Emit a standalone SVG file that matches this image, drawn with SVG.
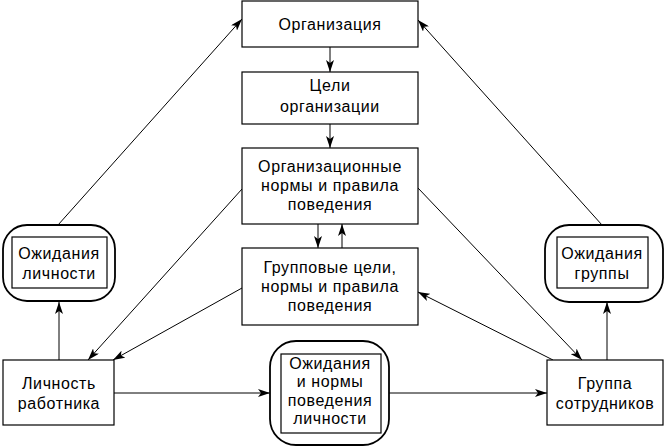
<svg xmlns="http://www.w3.org/2000/svg" width="665" height="447" viewBox="0 0 665 447">
<defs>
<style>
.box{fill:#fff;stroke:#000;stroke-width:1.2}
.outer{fill:#fff;stroke:#000;stroke-width:1.8}
.inner{fill:none;stroke:#000;stroke-width:1.2}
.t{font-family:"Liberation Sans",Arial,sans-serif;font-size:16px;letter-spacing:0.6px;fill:#000;text-anchor:middle}
.ln{fill:none;stroke:#000;stroke-width:1;marker-end:url(#ah)}
</style>
<marker id="ah" viewBox="0 0 12 8" refX="12" refY="4" markerWidth="12" markerHeight="8" markerUnits="userSpaceOnUse" orient="auto">
<path d="M0,0 L12,4 L0,8 L3,4 Z" fill="#000"/>
</marker>
</defs>
<g id="connectors">
<line class="ln" x1="330" y1="47" x2="330" y2="72"/>
<line class="ln" x1="330" y1="124" x2="330" y2="148"/>
<line class="ln" x1="318" y1="224" x2="318" y2="248"/>
<line class="ln" x1="342" y1="248" x2="342" y2="224"/>
<line class="ln" x1="58" y1="225" x2="242" y2="19"/>
<line class="ln" x1="602" y1="225" x2="418" y2="20"/>
<line class="ln" x1="242" y1="189" x2="88" y2="360"/>
<line class="ln" x1="242" y1="288" x2="113" y2="360"/>
<line class="ln" x1="418" y1="188" x2="582" y2="360"/>
<line class="ln" x1="553" y1="360" x2="418" y2="292"/>
<line class="ln" x1="59" y1="360" x2="59" y2="302"/>
<line class="ln" x1="607" y1="360" x2="607" y2="302"/>
<line class="ln" x1="114" y1="393" x2="270" y2="393"/>
<line class="ln" x1="389" y1="393" x2="547" y2="393"/>
</g>
<g id="org">
<rect class="box" x="242" y="1" width="176" height="46"/>
<text class="t" x="330" y="30">Организация</text>
</g>
<g id="goals">
<rect class="box" x="242" y="72" width="176" height="52"/>
<text class="t" x="330" y="91">Цели</text>
<text class="t" x="330" y="112">организации</text>
</g>
<g id="orgnorms">
<rect class="box" x="242" y="148" width="176" height="76"/>
<text class="t" x="330" y="172">Организационные</text>
<text class="t" x="330" y="191">нормы и правила</text>
<text class="t" x="330" y="210">поведения</text>
</g>
<g id="groupgoals">
<rect class="box" x="242" y="248" width="176" height="77"/>
<text class="t" x="330" y="273">Групповые цели,</text>
<text class="t" x="330" y="292">нормы и правила</text>
<text class="t" x="330" y="311">поведения</text>
</g>
<g id="persexp">
<rect class="outer" x="3" y="225" width="112" height="76" rx="24" ry="24"/>
<rect class="inner" x="12" y="237" width="95" height="51"/>
<text class="t" x="59" y="259">Ожидания</text>
<text class="t" x="59" y="279">личности</text>
</g>
<g id="groupexp">
<rect class="outer" x="545" y="225" width="118" height="77" rx="24" ry="24"/>
<rect class="inner" x="557" y="237" width="91" height="51"/>
<text class="t" x="602" y="259">Ожидания</text>
<text class="t" x="602" y="279">группы</text>
</g>
<g id="person">
<rect class="box" x="3" y="360" width="111" height="65"/>
<text class="t" x="59" y="389">Личность</text>
<text class="t" x="59" y="409">работника</text>
</g>
<g id="midexp">
<rect class="outer" x="270" y="341" width="119" height="104" rx="26" ry="26"/>
<rect class="inner" x="281" y="354" width="100" height="79"/>
<text class="t" x="330" y="369">Ожидания</text>
<text class="t" x="330" y="387">и нормы</text>
<text class="t" x="330" y="406">поведения</text>
<text class="t" x="330" y="424">личности</text>
</g>
<g id="group">
<rect class="box" x="547" y="360" width="116" height="65"/>
<text class="t" x="605" y="389">Группа</text>
<text class="t" x="605" y="409">сотрудников</text>
</g>
</svg>
